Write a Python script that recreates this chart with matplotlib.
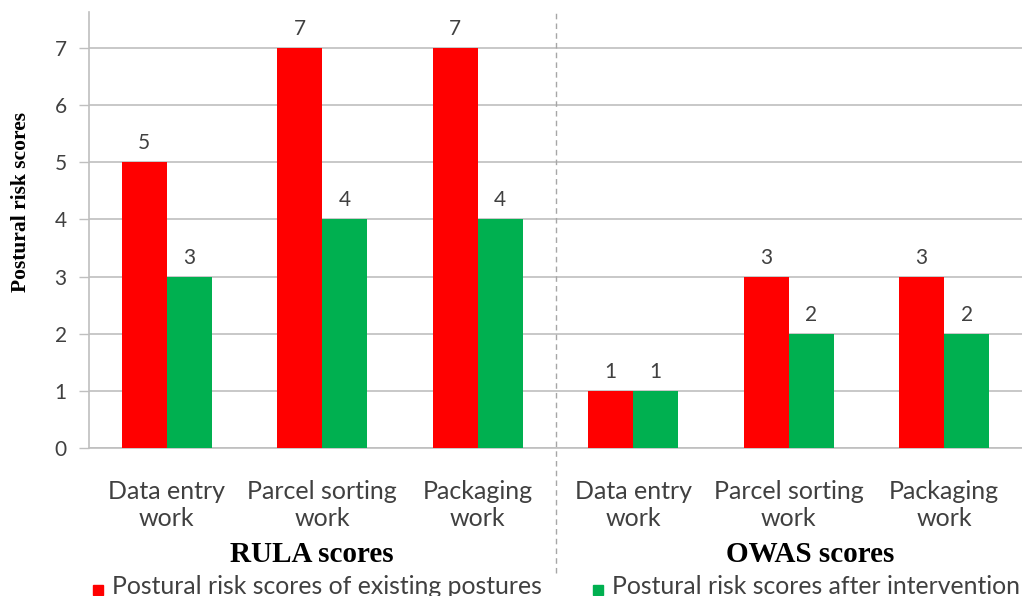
import matplotlib
matplotlib.use("Agg")
import matplotlib.pyplot as plt
import numpy as np

categories = ["Data entry\nwork", "Parcel sorting\nwork", "Packaging\nwork",
              "Data entry\nwork", "Parcel sorting\nwork", "Packaging\nwork"]
groups = ["RULA scores", "OWAS scores"]
existing = [5, 7, 7, 1, 3, 3]
after = [3, 4, 4, 1, 2, 2]
series_names = ["Postural risk scores of existing postures",
                "Postural risk scores after intervention"]
yticks = [0, 1, 2, 3, 4, 5, 6, 7]

RED = "#FF0000"
GREEN = "#00B050"
GRID = "#BFBFBF"
TXT = "#404040"
SANS = "Lato"
SERIF = "Liberation Serif"

W, H = 1022, 596
fig = plt.figure(figsize=(W / 100, H / 100), dpi=100)
ax = fig.add_axes([89 / W, (H - 448) / H, 1 - 89 / W, (448 - 12) / H])
px = 7.63 / (448 - 12)  # data units per pixel on the y axis

x = np.arange(len(categories))
bw = 0.29
ax.bar(x - bw / 2, existing, bw, color=RED, zorder=3)
ax.bar(x + bw / 2, after, bw, color=GREEN, zorder=3)

for xs, vals in [(x - bw / 2, existing), (x + bw / 2, after)]:
    for xi, v in zip(xs, vals):
        ax.text(xi, v + 19 * px, str(v), ha="center", va="center",
                fontsize=15, color=TXT, family=SANS)

ax.set_xlim(-0.5, 5.5)
ax.set_ylim(0, 7.63)
ax.set_yticks(yticks)
ax.set_yticklabels([str(t) for t in yticks], fontsize=15, color=TXT, family=SANS)
ax.yaxis.grid(True, color=GRID, lw=1.2, zorder=0)
ax.set_axisbelow(True)
ax.tick_params(axis="y", length=7, width=1, color=GRID, pad=9)
ax.set_xticks(x)
ax.set_xticklabels(categories, fontsize=18, color=TXT, family=SANS,
                   linespacing=1.2)
ax.tick_params(axis="x", length=0, pad=23)

for s in ["top", "right"]:
    ax.spines[s].set_visible(False)
for s in ["left", "bottom"]:
    ax.spines[s].set_color(GRID)
    ax.spines[s].set_linewidth(1.2)

# separator between the two assessment methods
ax.plot([2.5, 2.5], [-125 * px, 7.63], color="#A6A6A6", lw=1, ls=(0, (4, 3)),
        clip_on=False, zorder=1)

ax.set_ylabel("Postural risk scores", fontsize=15.5, fontweight="bold",
              family=SERIF, color="black")
ax.yaxis.set_label_coords(-58 / (W - 89), (448 - 202) / (448 - 12))

# group titles under the category labels
for gx, g in zip([312, 810], groups):
    fig.text(gx / W, (H - 555) / H, g, ha="center", va="center", fontsize=21,
             fontweight="bold", family=SERIF, color="black")

# legend row along the bottom edge
for lx, c, name in [(93, RED, series_names[0]), (593, GREEN, series_names[1])]:
    fig.patches.append(plt.Rectangle((lx / W, (H - 595) / H), 10 / W, 10 / H,
                                     transform=fig.transFigure, color=c))
    fig.text((lx + 19) / W, (H - 586) / H, name, ha="left", va="center",
             fontsize=17.8, color=TXT, family=SANS)

fig.savefig("out.png", dpi=100)
